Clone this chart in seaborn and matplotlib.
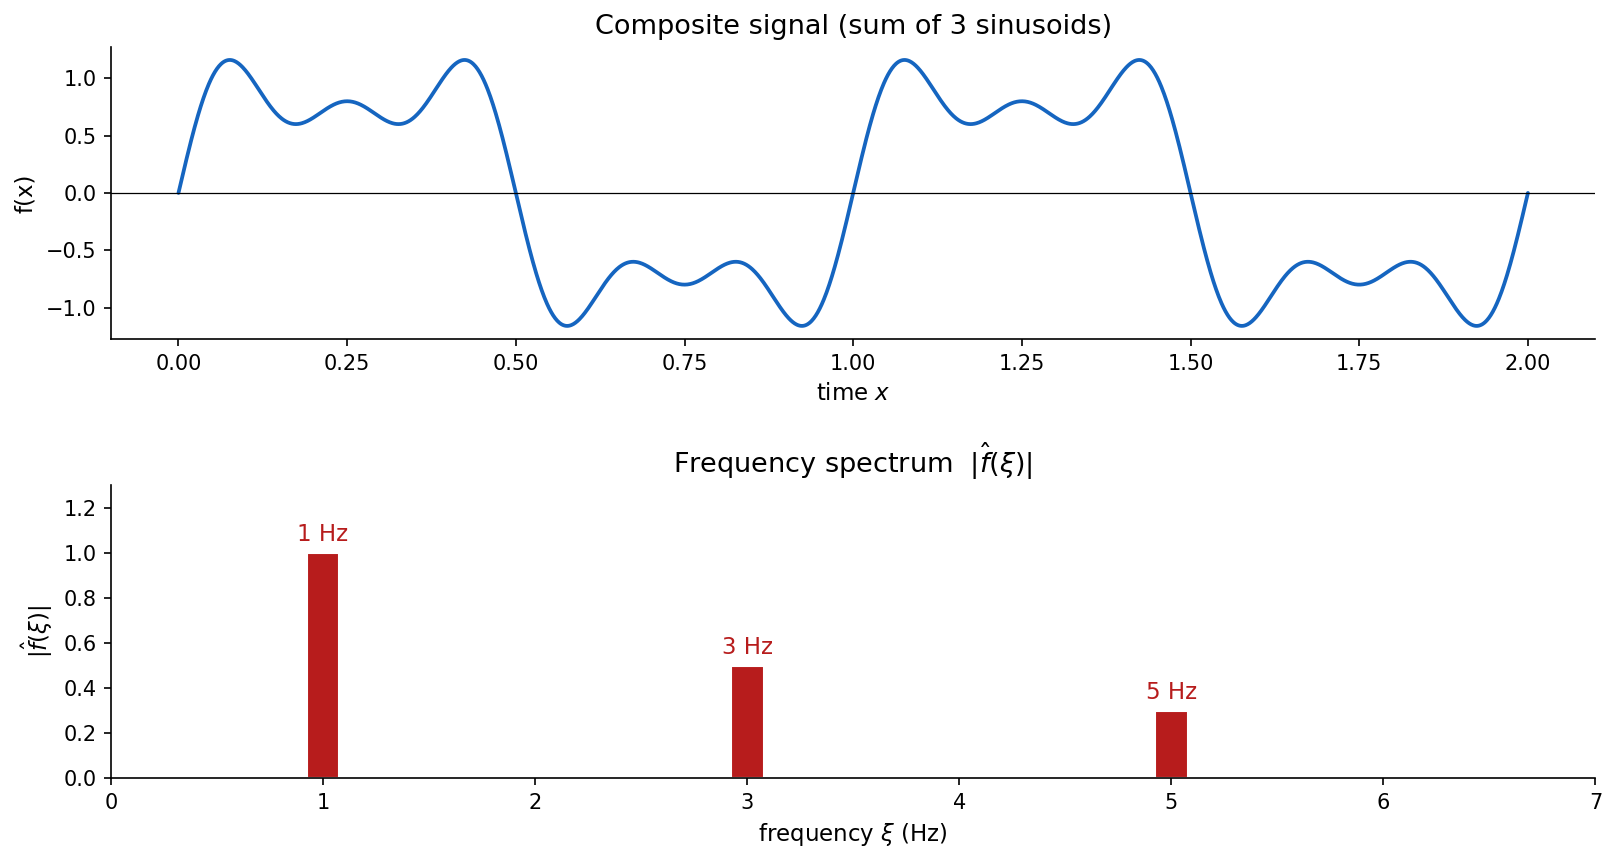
import numpy as np
import pandas as pd
import seaborn as sns
import matplotlib.pyplot as plt

# componentes de la señal
frecuencias = [1, 3, 5]
amplitudes = [1.0, 0.5, 0.3]
etiquetas = ["1 Hz", "3 Hz", "5 Hz"]

t = np.linspace(0, 2, 2000)
senal = sum(a * np.sin(2 * np.pi * f * t) for f, a in zip(frecuencias, amplitudes))
df_senal = pd.DataFrame({"t": t, "f": senal})
df_espectro = pd.DataFrame({"freq": frecuencias, "amp": amplitudes})

sns.set_style("ticks", {"text.color": "black", "axes.labelcolor": "black",
                        "xtick.color": "black", "ytick.color": "black",
                        "axes.edgecolor": "black"})
plt.rcParams["font.family"] = ["DejaVu Sans"]

fig, (ax1, ax2) = plt.subplots(2, 1, figsize=(10.787, 5.76), dpi=150)
fig.subplots_adjust(left=0.0686, right=0.986, top=0.946, bottom=0.0995, hspace=0.5)

# señal compuesta
sns.lineplot(data=df_senal, x="t", y="f", ax=ax1, color="#1565C0", linewidth=1.8)
ax1.axhline(0, color="black", linewidth=0.6)
ax1.set_title("Composite signal (sum of 3 sinusoids)", fontsize=13)
ax1.set_xlabel("time $x$", fontsize=11)
ax1.set_ylabel("f(x)", fontsize=11)
ax1.set_xticks(np.arange(0, 2.01, 0.25))
ax1.tick_params(labelsize=10)

# espectro
sns.barplot(data=df_espectro, x="freq", y="amp", ax=ax2, native_scale=True,
            width=0.0775, color="#B71C1C", saturation=1)
for f, a, lab in zip(frecuencias, amplitudes, etiquetas):
    ax2.text(f, a + 0.03, lab, ha="center", va="bottom", color="#B71C1C", fontsize=11)
ax2.set_xlim(0, 7)
ax2.set_ylim(0, 1.3)
ax2.set_xticks(range(0, 8))
ax2.set_yticks(np.arange(0, 1.21, 0.2))
ax2.set_title(r"Frequency spectrum  $|\hat{f}(\xi)|$", fontsize=13)
ax2.set_xlabel(r"frequency $\xi$ (Hz)", fontsize=11)
ax2.set_ylabel(r"$|\hat{f}(\xi)|$", fontsize=11)
ax2.tick_params(labelsize=10)

sns.despine()
fig.savefig("out.png", dpi=150)
